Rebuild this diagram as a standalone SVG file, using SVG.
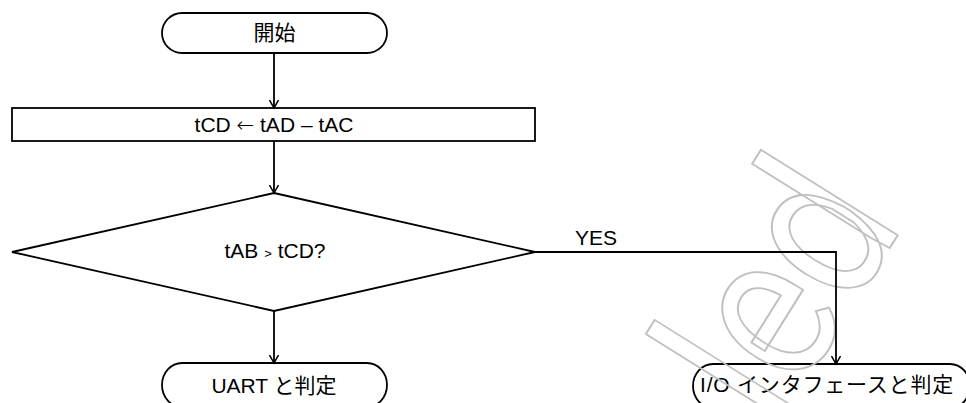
<svg xmlns="http://www.w3.org/2000/svg" width="966" height="403" viewBox="0 0 966 403">
<style>
.shape{fill:#fff;stroke:#000;stroke-width:1.8}
.conn{fill:none;stroke:#000;stroke-width:1.8}
.lbl{font-family:"Liberation Sans","Noto Sans CJK JP",sans-serif;font-size:21px;fill:#000}
.mid{text-anchor:middle}
.wm{font-family:"Roboto","Liberation Sans",sans-serif;font-weight:400;font-size:215px;fill:none;stroke:#c0c0c0;stroke-width:2}
</style>
<defs>
<marker id="arr" markerWidth="10" markerHeight="10" refX="8" refY="4.5" orient="auto" markerUnits="userSpaceOnUse">
<path d="M0,0 L8,4.5 L0,9" fill="none" stroke="#000" stroke-width="1.5"/>
</marker>
</defs>
<rect width="966" height="403" fill="#fff"/>
<g id="start">
<rect class="shape" x="162" y="13" width="225" height="40" rx="20" ry="20"/>
<text class="lbl mid" x="274.5" y="40">開始</text>
</g>
<g id="process">
<rect class="shape" x="12" y="108" width="523" height="33"/>
<text class="lbl mid" x="274" y="132">tCD <tspan font-family="DejaVu Sans" font-weight="200">←</tspan> tAD – tAC</text>
</g>
<g id="decision">
<polygon class="shape" points="274,193 535,252 274,311 12,252"/>
<text class="lbl mid" x="275" y="258">tAB <tspan font-size="13">&gt;</tspan> tCD?</text>
</g>
<g id="uart">
<rect class="shape" x="162" y="363" width="225" height="44" rx="20" ry="22"/>
<text class="lbl mid" x="274" y="393">UART と判定</text>
</g>
<g id="io">
<rect class="shape" x="693" y="364" width="277" height="44" rx="20" ry="22"/>
<text class="lbl mid" x="827" y="392" letter-spacing="0.8">I/O インタフェースと判定</text>
</g>
<g id="watermark" transform="translate(786,414) rotate(-58) scale(0.85,1)">
<text class="wm" x="-24" y="0">led</text>
</g>
<g id="connectors">
<path class="conn" d="M274,53 V108" marker-end="url(#arr)"/>
<path class="conn" d="M274,141 V193" marker-end="url(#arr)"/>
<path class="conn" d="M274,311 V363" marker-end="url(#arr)"/>
<path class="conn" d="M535,252 H836 V364" marker-end="url(#arr)"/>
<text class="lbl" x="575" y="245">YES</text>
</g>
</svg>
